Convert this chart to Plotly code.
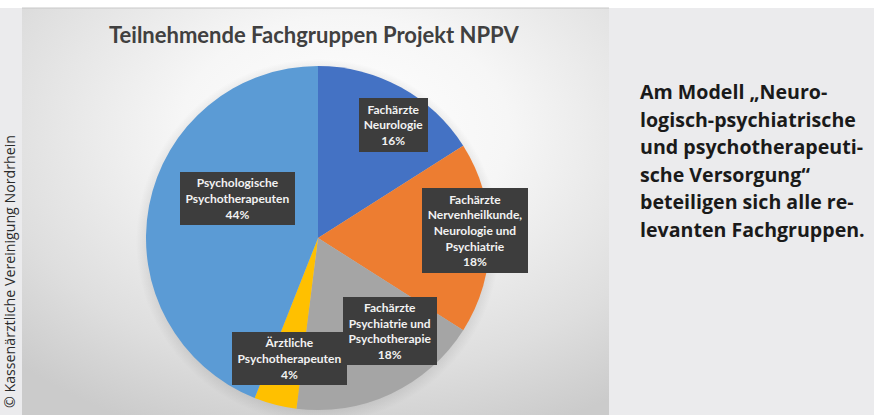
import base64
import plotly.graph_objects as go

W, H = 874, 415

# ---- data ----
categories = [
    "Fachärzte<br>Neurologie",
    "Fachärzte<br>Nervenheilkunde,<br>Neurologie und<br>Psychiatrie",
    "Fachärzte<br>Psychiatrie und<br>Psychotherapie",
    "Ärztliche<br>Psychotherapeuten",
    "Psychologische<br>Psychotherapeuten",
]
shares = [16, 18, 18, 4, 44]
colors = ["#4472c4", "#ed7d31", "#a5a5a5", "#ffc000", "#5b9bd5"]
title_text = "Teilnehmende Fachgruppen Projekt NPPV"
side_lines = [
    "Am Modell „Neuro-",
    "logisch-psychiatrische",
    "und psychotherapeuti-",
    "sche Versorgung“",
    "beteiligen sich alle re-",
    "levanten Fachgruppen.",
]
credit = "© Kassenärztliche Vereinigung Nordrhein"

# label box placement (pixel centre, width, height)
label_boxes = [
    (393, 98, 69, 54),
    (475, 230, 106, 85),
    (390, 365, 94, 68),
    (232, 385, 115, 53),
    (180, 198, 115, 53),
]

def px(x):
    return x / W

def py(y):
    return 1 - y / H

# background gradient for chart panel
cw, ch = 587, 407
svg = f'''<svg xmlns="http://www.w3.org/2000/svg" width="{cw}" height="{ch}" viewBox="0 0 {cw} {ch}">
<defs><radialGradient id="g" cx="0.55" cy="0.3" r="0.8">
<stop offset="0" stop-color="#ffffff"/>
<stop offset="0.35" stop-color="#f6f6f6"/>
<stop offset="0.75" stop-color="#dedede"/>
<stop offset="1" stop-color="#cbcbcb"/>
</radialGradient>
<radialGradient id="s" cx="0.5" cy="0.5" r="0.5">
<stop offset="0.85" stop-color="#000000" stop-opacity="0.18"/>
<stop offset="1" stop-color="#000000" stop-opacity="0"/>
</radialGradient></defs>
<rect width="{cw}" height="{ch}" fill="url(#g)"/>
<circle cx="{318-22}" cy="{241-8}" r="182" fill="url(#s)"/>
</svg>'''
src = "data:image/svg+xml;base64," + base64.b64encode(svg.encode()).decode()

# pie domain in pixels
dom_x0, dom_x1, dom_y0, dom_y1 = 146, 490, 66, 410
fig = go.Figure(go.Pie(
    values=shares,
    labels=[c.replace("<br>", " ") for c in categories],
    marker=dict(colors=colors, line=dict(width=0)),
    sort=False,
    direction="clockwise",
    rotation=0,
    textinfo="none",
    hoverinfo="label+percent",
    showlegend=False,
    domain=dict(x=[px(dom_x0), px(dom_x1)], y=[max(0, py(dom_y1)), py(dom_y0)]),
))

annotations = []
for cat, val, (bx, by, bw, bh) in zip(categories, shares, label_boxes):
    annotations.append(dict(
        x=px(bx), y=py(by), xref="paper", yref="paper",
        text=f"<b>{cat}<br>{val}%</b>", showarrow=False,
        width=bw, height=bh, borderpad=0,
        bgcolor="#3d3d3d", bordercolor="#3d3d3d", borderwidth=0,
        font=dict(family="Lato", size=12, color="#f2f2f2"),
        align="center", valign="middle",
    ))

annotations.append(dict(
    x=px(314), y=py(35), xref="paper", yref="paper", text=f"<b>{title_text}</b>",
    showarrow=False, xanchor="center", yanchor="middle",
    font=dict(family="Lato", size=22, color="#404040"),
))

for i, line in enumerate(side_lines):
    annotations.append(dict(
        x=px(638), y=py(92 + i * 27.4), xref="paper", yref="paper", text=f"<b>{line}</b>",
        showarrow=False, xanchor="left", yanchor="middle",
        font=dict(family="Open Sans", size=19.6, color="#1a1a1a"),
    ))

annotations.append(dict(
    x=px(9), y=py(272), xref="paper", yref="paper", text=credit,
    showarrow=False, textangle=-90, xanchor="center", yanchor="middle",
    font=dict(family="Open Sans", size=14.2, color="#2a2a2a"),
))

fig.update_layout(
    width=W, height=H,
    margin=dict(l=0, r=0, t=0, b=0),
    paper_bgcolor="#ebebed",
    plot_bgcolor="#ebebed",
    images=[dict(source=src, xref="paper", yref="paper", x=px(22), y=py(8),
                 sizex=cw / W, sizey=ch / H, sizing="stretch", layer="below",
                 xanchor="left", yanchor="top")],
    shapes=[
        dict(type="rect", xref="paper", yref="paper", x0=0, x1=1, y0=py(8), y1=1,
             fillcolor="#ffffff", line=dict(width=0), layer="below"),
        dict(type="line", xref="paper", yref="paper", x0=px(22), x1=px(609),
             y0=py(8), y1=py(8), line=dict(color="#c8c8c8", width=1)),
    ],
    annotations=annotations,
)

fig.write_html(
    "out.html",
    config={"displayModeBar": False},
    post_script="document.body.style.margin='0';document.body.style.overflow='hidden';",
)
